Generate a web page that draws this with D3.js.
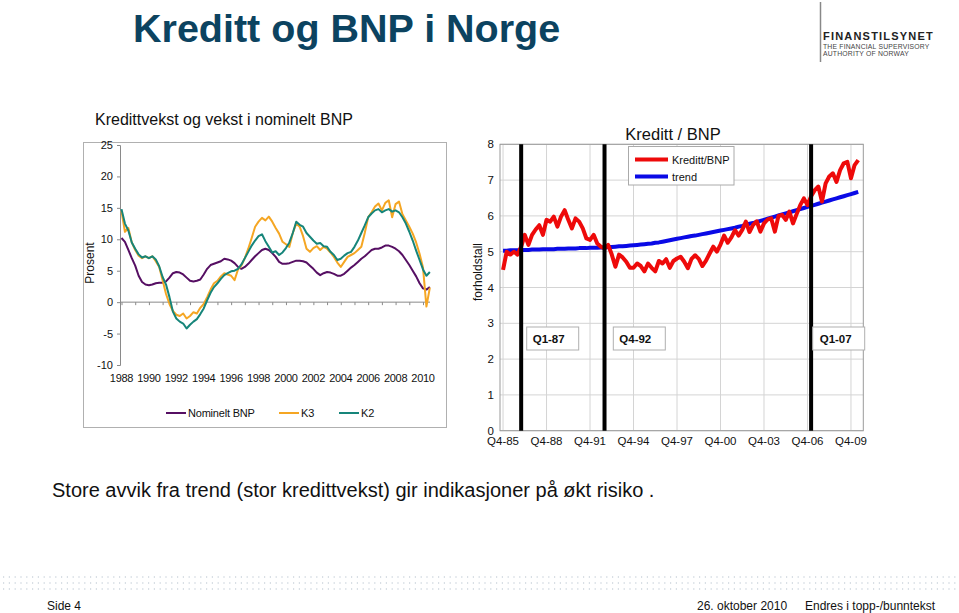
<!DOCTYPE html>
<html><head><meta charset="utf-8">
<script src="https://cdn.jsdelivr.net/npm/d3@7"></script>
<style>
html,body{margin:0;padding:0;background:#fff;}
svg{display:block;font-family:"Liberation Sans",Arial,sans-serif;}
</style></head>
<body>
<svg id="c" width="959" height="613"></svg>
<script>
// ---------- LEFT CHART DATA (quarterly, from 1988 Q1) ----------
const leftStartYear = 1988;
const leftTickYears = [1988,1990,1992,1994,1996,1998,2000,2002,2004,2006,2008,2010];
const leftYTicks = [-10,-5,0,5,10,15,20,25];
const leftSeriesNames = ["Nominelt BNP","K3","K2"];
const bnp = [10.2,9.6,8.3,7.0, 5.8,4.2,3.2,2.8, 2.7,2.8,3.0,3.1, 3.1,3.3,3.9,4.6,
  4.8,4.7,4.4,3.9, 3.4,3.3,3.4,3.6, 4.4,5.3,5.9,6.1, 6.3,6.5,6.9,6.8,
  6.6,6.2,5.6,5.3, 5.6,6.1,6.7,7.3, 7.8,8.3,8.5,8.3, 7.8,7.2,6.4,6.1,
  6.1,6.2,6.4,6.6, 6.6,6.5,6.3,5.8, 5.3,4.7,4.3,4.6, 4.8,4.7,4.5,4.2,
  4.2,4.5,5.0,5.5, 5.9,6.4,6.9,7.3, 7.8,8.3,8.5,8.5, 8.7,9.0,9.0,8.8,
  8.5,8.1,7.5,6.7, 5.9,5.0,4.1,3.0, 2.2,2.0,2.4];
const k3 = [14.5,11.2,11.8,9.5, 8.3,7.4,7.0,7.3, 7.0,7.3,6.5,5.6, 3.5,1.3,-0.3,-1.4,
  -2.0,-2.2,-1.8,-2.6, -2.2,-1.6,-1.8,-0.9, -0.3,0.8,2.0,3.0, 3.4,4.1,4.6,4.4,
  4.2,3.5,5.2,5.8, 7.0,8.5,10.2,12.0, 12.8,13.4,13.0,13.6, 12.8,11.8,10.9,9.6,
  9.2,8.8,11.0,12.5, 12.0,10.5,8.5,8.0, 8.6,8.9,8.3,8.8, 8.5,7.9,7.2,6.3,
  5.6,6.4,7.2,7.5, 7.8,8.3,8.8,11.0, 13.5,14.3,15.2,15.7, 14.6,15.8,16.2,13.5,
  15.6,16.0,14.0,13.0, 12.0,10.9,9.5,7.7, 5.5,-0.7,2.3];
const k2 = [14.8,12.5,11.4,9.5, 8.5,7.6,7.1,7.3, 7.0,7.3,6.8,5.7, 4.0,2.8,0.8,-1.5,
  -2.6,-3.1,-3.4,-4.2, -3.6,-3.1,-2.7,-1.9, -1.0,0.3,1.5,2.4, 3.0,3.7,4.3,4.6,
  4.9,5.0,5.3,6.0, 7.0,8.0,9.0,9.8, 10.5,10.8,9.7,8.8, 7.9,8.1,7.5,7.9,
  8.6,9.5,11.0,12.8, 12.3,12.0,11.0,10.4, 9.8,9.3,9.4,8.9, 8.8,8.0,7.5,6.7,
  6.9,7.4,7.8,8.0, 8.8,9.8,11.0,12.2, 13.5,14.1,14.6,14.8, 14.3,14.6,14.8,14.4,
  14.6,14.3,13.5,12.5, 11.2,9.8,8.2,6.7, 5.2,4.2,4.8];
const leftColors = ["#560f63","#f5a623","#16857a"];

// ---------- RIGHT CHART DATA (quarterly, from Q4-85) ----------
const rightTickLabels = ["Q4-85","Q4-88","Q4-91","Q4-94","Q4-97","Q4-00","Q4-03","Q4-06","Q4-09"];
const rightTickTimes = [1985.75,1988.75,1991.75,1994.75,1997.75,2000.75,2003.75,2006.75,2009.75];
const rightYTicks = [0,1,2,3,4,5,6,7,8];
const kredittBnp = [4.49,
  5.00,4.92,5.00,4.92, 5.14,5.47,5.19,5.47, 5.62,5.74,5.47,5.89, 5.84,5.98,5.70,5.98,
  6.16,5.89,5.65,5.93, 5.84,5.65,5.37,5.33, 5.47,5.23,5.14,5.09, 5.19,4.92,4.58,4.92,
  4.84,4.72,4.55,4.55, 4.67,4.60,4.45,4.67, 4.55,4.45,4.74,4.67, 4.79,4.55,4.74,4.81,
  4.86,4.72,4.54,4.80, 4.90,4.80,4.60,4.75, 4.95,5.14,5.00,5.20, 5.45,5.25,5.40,5.60,
  5.45,5.61,5.84,5.55, 5.75,5.85,5.56,5.79, 5.90,5.93,5.56,6.00, 6.03,5.89,6.12,5.79,
  6.05,6.30,6.49,6.30, 6.55,6.72,6.82,6.40, 6.91,7.10,7.19,6.95, 7.28,7.47,7.51,7.05,
  7.42,7.56];
const trend = [5.03,
  5.03,5.04,5.04,5.04, 5.05,5.05,5.05,5.06, 5.06,5.06,5.07,5.07, 5.07,5.07,5.08,5.08,
  5.08,5.09,5.09,5.09, 5.10,5.10,5.10,5.11, 5.11,5.11,5.12,5.12, 5.13,5.13,5.14,5.15,
  5.15,5.16,5.17,5.18, 5.19,5.20,5.21,5.22, 5.23,5.25,5.26,5.28, 5.30,5.32,5.34,5.36,
  5.38,5.40,5.42,5.44, 5.45,5.47,5.49,5.51, 5.53,5.55,5.57,5.59, 5.61,5.63,5.65,5.67,
  5.70,5.72,5.75,5.78, 5.80,5.83,5.86,5.89, 5.92,5.95,5.98,6.01, 6.04,6.07,6.10,6.13,
  6.16,6.19,6.22,6.25, 6.28,6.31,6.34,6.37, 6.40,6.43,6.46,6.49, 6.52,6.55,6.58,6.61,
  6.64,6.67];
const markerLabels = ["Q1-87","Q4-92","Q1-07"];
const markerTimes = [1987.0, 1992.75, 2007.0];

// ---------- DRAW ----------
const svg = d3.select("#c");
const F = '"Liberation Sans",Arial,sans-serif';

// Header
svg.append("text").attr("x",133).attr("y",42).attr("font-size",39.5).attr("font-weight","bold")
  .attr("fill","#0c4360").text("Kreditt og BNP i Norge");
svg.append("line").attr("x1",820.5).attr("x2",820.5).attr("y1",2).attr("y2",62).attr("stroke","#888").attr("stroke-width",1.5);
svg.append("text").attr("x",823).attr("y",39.5).attr("font-size",11).attr("font-weight","bold")
  .attr("letter-spacing",1.2).attr("fill","#222").text("FINANSTILSYNET");
svg.append("text").attr("x",823).attr("y",48.5).attr("font-size",6.8).attr("letter-spacing",0.2).attr("fill","#444").text("THE FINANCIAL SUPERVISORY");
svg.append("text").attr("x",823).attr("y",56).attr("font-size",6.8).attr("letter-spacing",0.2).attr("fill","#444").text("AUTHORITY OF NORWAY");

// ===== Left chart =====
const L = svg.append("g");
L.append("rect").attr("x",83.5).attr("y",142.5).attr("width",363).attr("height",285)
  .attr("fill","none").attr("stroke","#b0b0b0");
L.append("text").attr("x",95).attr("y",125).attr("font-size",16).attr("fill","#111")
  .text("Kredittvekst og vekst i nominelt BNP");
const xL = d3.scaleLinear().domain([1988,2010]).range([121.5,423]);
const yL = d3.scaleLinear().domain([-10,25]).range([365,145]);
const yAxL = L.append("g").attr("transform","translate(120,0)")
  .call(d3.axisLeft(yL).tickValues(leftYTicks).tickSize(3).tickPadding(4).tickFormat(d=>String(d)));
yAxL.select(".domain").attr("stroke","#8a8a8a");
yAxL.selectAll(".tick line").attr("stroke","#8a8a8a");
yAxL.selectAll(".tick text").attr("font-size",11).attr("font-family",F).attr("fill","#111");
// x axis at zero
const yearTicks = d3.range(1988,2011);
const xAxL = L.append("g").attr("transform",`translate(0,${yL(0)})`)
  .call(d3.axisBottom(xL).tickValues(yearTicks).tickSize(3).tickFormat(""));
xAxL.select(".domain").attr("d",`M120,0H430`).attr("stroke","#8a8a8a");
xAxL.selectAll(".tick line").attr("stroke","#8a8a8a");
L.selectAll("text.yr").data(leftTickYears).join("text").attr("class","yr")
  .attr("x",d=>xL(d)).attr("y",382).attr("text-anchor","middle").attr("font-size",11)
  .attr("letter-spacing",-0.3).attr("fill","#111").text(d=>d);
L.append("text").attr("transform","translate(94,263) rotate(-90)").attr("text-anchor","middle")
  .attr("font-size",12).attr("fill","#111").text("Prosent");
const tL = bnp.map((_,i)=>leftStartYear + i/4);
const lineL = d3.line().x((d,i)=>xL(tL[i])).y(d=>yL(d));
[bnp,k3,k2].forEach((s,j)=>{
  L.append("path").datum(s).attr("d",lineL).attr("fill","none")
    .attr("stroke",leftColors[j]).attr("stroke-width",2).attr("stroke-linejoin","round");
});
// legend
const legX = [166,279,339];
leftSeriesNames.forEach((n,j)=>{
  L.append("line").attr("x1",legX[j]).attr("x2",legX[j]+20).attr("y1",413).attr("y2",413)
    .attr("stroke",leftColors[j]).attr("stroke-width",2);
  L.append("text").attr("x",legX[j]+22).attr("y",417).attr("font-size",11).attr("letter-spacing",-0.2)
    .attr("fill","#111").text(n);
});

// ===== Right chart =====
const R = svg.append("g");
const xR = d3.scaleLinear().domain([1985.54,2010.6]).range([500,863.3]);
const yR = d3.scaleLinear().domain([0,8]).range([430.7,144.3]);
// grid
R.selectAll("line.hg").data(rightYTicks).join("line").attr("class","hg")
  .attr("x1",500).attr("x2",863.3).attr("y1",d=>yR(d)).attr("y2",d=>yR(d))
  .attr("stroke","#d4d4d4").attr("stroke-width",1);
R.selectAll("line.vg").data(rightTickTimes).join("line").attr("class","vg")
  .attr("x1",d=>xR(d)).attr("x2",d=>xR(d)).attr("y1",144.3).attr("y2",430.7)
  .attr("stroke","#d4d4d4").attr("stroke-width",1);
R.append("rect").attr("x",500).attr("y",144.3).attr("width",363.3).attr("height",286.4)
  .attr("fill","none").attr("stroke","#9a9a9a").attr("stroke-width",1);
// y ticks labels
R.selectAll("text.yt").data(rightYTicks).join("text").attr("class","yt")
  .attr("x",494).attr("y",d=>yR(d)+4).attr("text-anchor","end").attr("font-size",11.5)
  .attr("fill","#111").text(d=>d);
R.selectAll("text.xt").data(rightTickLabels).join("text").attr("class","xt")
  .attr("x",(d,i)=>xR(rightTickTimes[i])).attr("y",445).attr("text-anchor","middle")
  .attr("font-size",11.5).attr("fill","#111").text(d=>d);
R.append("text").attr("x",673).attr("y",140).attr("text-anchor","middle").attr("font-size",16.5)
  .attr("fill","#111").text("Kreditt / BNP");
R.append("text").attr("transform","translate(482,272) rotate(-90)").attr("text-anchor","middle")
  .attr("font-size",12).attr("fill","#111").text("forholdstall");
// series
const tR = kredittBnp.map((_,i)=>1985.75 + i/4);
const lineR = d3.line().x((d,i)=>xR(tR[i])).y(d=>yR(d));
R.append("path").datum(trend).attr("d",lineR).attr("fill","none").attr("stroke","#0a0ae6")
  .attr("stroke-width",4).attr("stroke-linejoin","round");
R.append("path").datum(kredittBnp).attr("d",lineR).attr("fill","none").attr("stroke","#ee0a0a")
  .attr("stroke-width",4).attr("stroke-linejoin","round");
// marker lines
R.selectAll("line.mk").data(markerTimes).join("line").attr("class","mk")
  .attr("x1",d=>xR(d)).attr("x2",d=>xR(d)).attr("y1",yR(8)).attr("y2",yR(0))
  .attr("stroke","#000").attr("stroke-width",4);
// marker boxes
const boxX = [526.7,613.3,812.7];
markerLabels.forEach((m,i)=>{
  R.append("rect").attr("x",boxX[i]).attr("y",327).attr("width",52).attr("height",23)
    .attr("fill","#fff").attr("stroke","#b0b0b0");
  R.append("text").attr("x",boxX[i]+(i==2?7:6)).attr("y",342.5).attr("font-size",11.5)
    .attr("font-weight","bold").attr("fill","#111").text(m);
});
// legend
R.append("rect").attr("x",628.5).attr("y",146.5).attr("width",105.5).attr("height",38.5)
  .attr("fill","#fff").attr("stroke","#aaa");
R.append("line").attr("x1",635).attr("x2",668).attr("y1",159.5).attr("y2",159.5).attr("stroke","#ee0a0a").attr("stroke-width",4);
R.append("line").attr("x1",635).attr("x2",668).attr("y1",176.5).attr("y2",176.5).attr("stroke","#0a0ae6").attr("stroke-width",4);
R.append("text").attr("x",672).attr("y",163.5).attr("font-size",11).attr("fill","#111").text("Kreditt/BNP");
R.append("text").attr("x",672).attr("y",180.5).attr("font-size",11).attr("fill","#111").text("trend");

// Subtitle
svg.append("text").attr("x",52).attr("y",497).attr("font-size",20).attr("fill","#111")
  .text("Store avvik fra trend (stor kredittvekst) gir indikasjoner på økt risiko .");

// Footer dotted rows
[577,583,589].forEach(y=>{
  svg.append("line").attr("x1",3).attr("x2",956).attr("y1",y).attr("y2",y)
    .attr("stroke","#b4c0cc").attr("stroke-width",1.2).attr("stroke-dasharray","1.2,4.6");
});
svg.append("text").attr("x",47).attr("y",610).attr("font-size",12).attr("fill","#111").text("Side 4");
svg.append("text").attr("x",697).attr("y",610).attr("font-size",12).attr("fill","#111").text("26. oktober 2010");
svg.append("text").attr("x",805).attr("y",610).attr("font-size",12).attr("fill","#111").text("Endres i topp-/bunntekst");
</script>
</body></html>
